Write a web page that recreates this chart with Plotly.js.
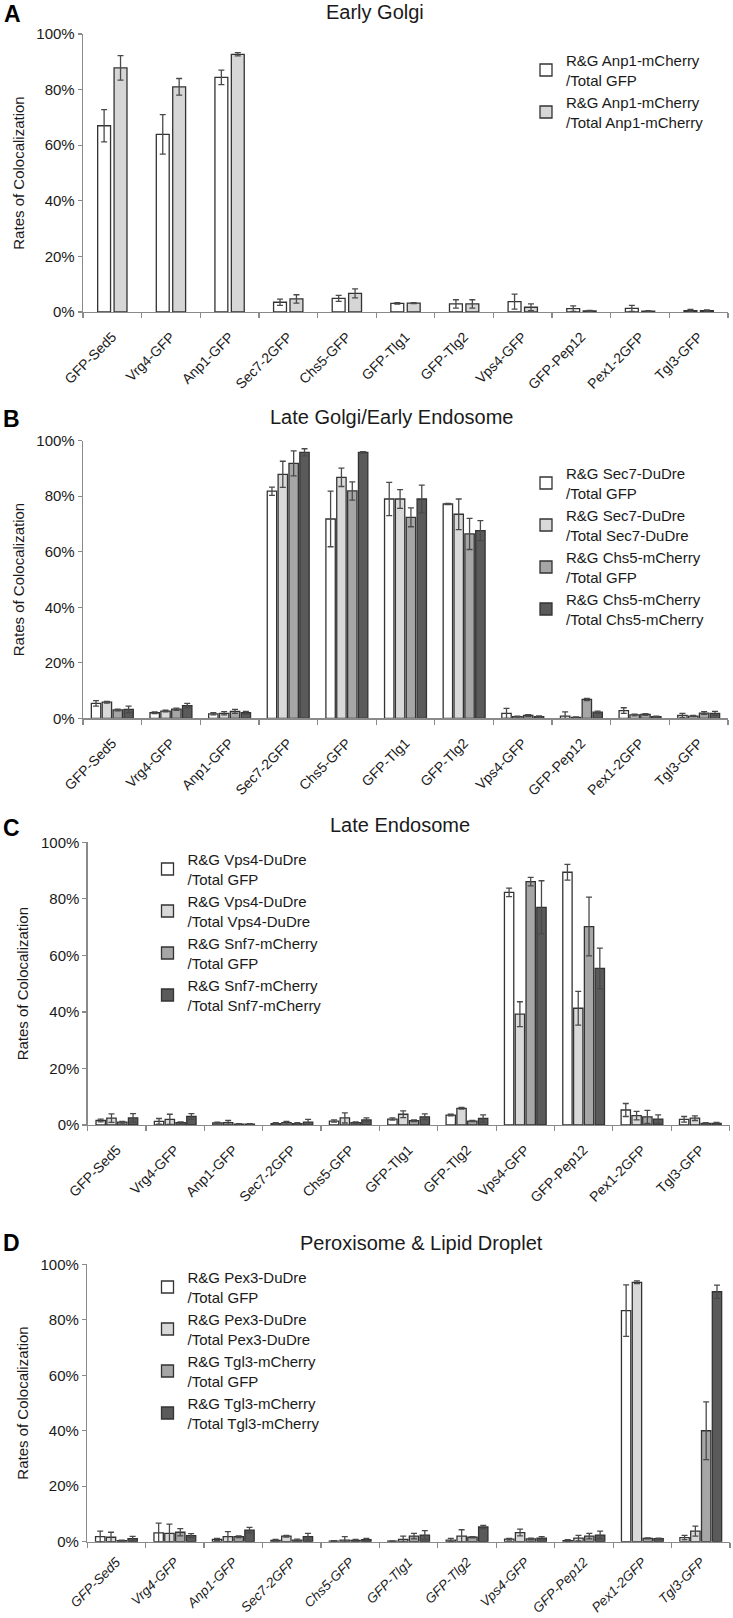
<!DOCTYPE html>
<html>
<head>
<meta charset="utf-8">
<script src="https://cdn.plot.ly/plotly-3.0.1.min.js"></script>
<style>
  html, body { margin: 0; padding: 0; background: #ffffff; }
  #chart { width: 733px; height: 1618px; }
</style>
</head>
<body>
<div id="chart"></div>
<script>
// ---------------- DATA ----------------
const categories = ['GFP-Sed5', 'Vrg4-GFP', 'Anp1-GFP', 'Sec7-2GFP', 'Chs5-GFP', 'GFP-Tlg1',
                    'GFP-Tlg2', 'Vps4-GFP', 'GFP-Pep12', 'Pex1-2GFP', 'Tgl3-GFP'];

const panelTitles = ['Early Golgi', 'Late Golgi/Early Endosome', 'Late Endosome', 'Peroxisome & Lipid Droplet'];
const panelLetters = ['A', 'B', 'C', 'D'];
const yAxisTitle = 'Rates of Colocalization';
const yTickVals = [0, 20, 40, 60, 80, 100];
const yTickText = ['0%', '20%', '40%', '60%', '80%', '100%'];

// Panel A – Early Golgi
const namesA = ['R&G Anp1-mCherry<br>/Total GFP', 'R&G Anp1-mCherry<br>/Total Anp1-mCherry'];
const aTotalGFP      = [67.0, 63.9, 84.4, 3.5, 4.9, 3.1, 2.9, 3.7, 1.2, 1.3, 0.5];
const aTotalGFPErr   = [5.8, 7.1, 2.6, 1.1, 1.1, 0.3, 1.5, 2.7, 1.0, 1.1, 0.4];
const aTotalAnp1     = [87.8, 81.0, 92.7, 4.7, 6.7, 3.2, 2.9, 1.7, 0.4, 0.3, 0.5];
const aTotalAnp1Err  = [4.4, 3.0, 0.6, 1.5, 1.6, 0.2, 1.5, 1.2, 0.2, 0.2, 0.3];

// Panel B – Late Golgi / Early Endosome
const namesB = ['R&G Sec7-DuDre<br>/Total GFP', 'R&G Sec7-DuDre<br>/Total Sec7-DuDre',
                'R&G Chs5-mCherry<br>/Total GFP', 'R&G Chs5-mCherry<br>/Total Chs5-mCherry'];
const bSec7GFP       = [5.4, 2.0, 1.6, 81.8, 71.8, 79.0, 77.2, 1.8, 0.8, 2.8, 1.0];
const bSec7GFPErr    = [1.0, 0.3, 0.4, 1.5, 10.0, 6.0, 0.2, 1.8, 1.5, 1.0, 0.8];
const bSec7Sec7      = [5.8, 2.6, 1.8, 87.9, 86.8, 79.0, 73.5, 0.6, 0.3, 1.2, 0.8];
const bSec7Sec7Err   = [0.3, 0.3, 0.6, 4.7, 3.3, 3.4, 5.5, 0.2, 0.2, 0.3, 0.2];
const bChs5GFP       = [3.0, 3.3, 2.5, 91.8, 81.9, 72.4, 66.4, 1.0, 6.8, 1.4, 1.9];
const bChs5GFPErr    = [0.3, 0.4, 0.7, 4.5, 3.3, 3.4, 5.6, 0.3, 0.4, 0.3, 0.5];
const bChs5Chs5      = [3.2, 4.6, 2.0, 95.8, 95.8, 79.0, 67.6, 0.6, 2.2, 0.6, 1.8];
const bChs5Chs5Err   = [1.2, 0.8, 0.5, 1.3, 0.3, 5.0, 3.6, 0.3, 0.4, 0.2, 0.7];

// Panel C – Late Endosome
const namesC = ['R&G Vps4-DuDre<br>/Total GFP', 'R&G Vps4-DuDre<br>/Total Vps4-DuDre',
                'R&G Snf7-mCherry<br>/Total GFP', 'R&G Snf7-mCherry<br>/Total Snf7-mCherry'];
const cVps4GFP       = [1.6, 1.3, 0.7, 0.5, 1.4, 2.1, 3.5, 82.3, 89.4, 5.3, 2.0];
const cVps4GFPErr    = [0.5, 1.0, 0.3, 0.3, 0.4, 0.4, 0.3, 1.5, 2.8, 2.3, 1.0];
const cVps4Vps4      = [2.4, 2.0, 0.8, 0.8, 2.5, 3.8, 5.9, 39.2, 41.3, 3.3, 2.4];
const cVps4Vps4Err   = [1.5, 1.8, 0.8, 0.5, 1.8, 1.2, 0.3, 4.4, 6.0, 1.5, 0.8];
const cSnf7GFP       = [1.0, 0.8, 0.3, 0.5, 0.8, 1.5, 1.4, 86.1, 70.2, 2.9, 0.6];
const cSnf7GFPErr    = [0.3, 0.3, 0.2, 0.3, 0.3, 0.3, 0.2, 1.5, 10.4, 2.3, 0.2];
const cSnf7Snf7      = [2.5, 3.0, 0.3, 1.0, 1.8, 2.9, 2.3, 77.0, 55.4, 2.1, 0.6];
const cSnf7Snf7Err   = [1.5, 1.0, 0.2, 1.0, 0.7, 1.0, 1.3, 9.4, 7.2, 1.5, 0.3];

// Panel D – Peroxisome & Lipid Droplet
const namesD = ['R&G Pex3-DuDre<br>/Total GFP', 'R&G Pex3-DuDre<br>/Total Pex3-DuDre',
                'R&G Tgl3-mCherry<br>/Total GFP', 'R&G Tgl3-mCherry<br>/Total Tgl3-mCherry'];
const dPex3GFP       = [1.8, 3.2, 0.8, 0.5, 0.2, 0.2, 0.6, 0.9, 0.4, 83.3, 1.5];
const dPex3GFPErr    = [2.0, 3.5, 0.4, 0.3, 0.2, 0.1, 0.6, 0.3, 0.3, 9.3, 0.8];
const dPex3Pex3      = [1.6, 3.0, 1.8, 2.0, 0.6, 0.8, 2.0, 3.3, 1.3, 93.5, 3.8];
const dPex3Pex3Err   = [1.8, 3.3, 1.8, 0.3, 1.2, 1.2, 2.3, 1.2, 1.0, 0.5, 1.8];
const dTgl3GFP       = [0.4, 3.4, 1.8, 0.6, 0.5, 2.0, 1.6, 1.0, 2.0, 1.2, 40.0];
const dTgl3GFPErr    = [0.2, 1.3, 0.3, 0.3, 0.3, 1.0, 0.2, 0.3, 1.0, 0.2, 10.4];
const dTgl3Tgl3      = [1.1, 2.2, 4.2, 1.8, 0.7, 2.4, 5.3, 1.3, 2.4, 1.1, 90.1];
const dTgl3Tgl3Err   = [0.8, 0.7, 1.0, 1.2, 0.5, 1.6, 0.6, 0.5, 1.4, 0.2, 2.4];

// ---------------- STYLE / LAYOUT HELPERS ----------------
const W = 733, H = 1618;
const px = x => x / W;
const py = y => 1 - y / H;
const FONT = 'Liberation Sans, Arial, sans-serif';
const TXT = '#1a1a1a';
const AXC = '#8a8a8a';
const fillsTwo = ['#ffffff', '#d6d6d6'];
const fillsFour = ['#ffffff', '#d9d9d9', '#a6a6a6', '#5a5a5a'];

// geometry of each panel (pixels)
const panels = [
  {x0: 83,   x1: 728,   yTop: 34,    yBot: 312,    title: [375, 12.2],  letter: [12.3, 14.5], legend: [526, 44], standoff: 10},
  {x0: 83,   x1: 728,   yTop: 440.7, yBot: 718.3,  title: [391, 417.2], letter: [11.7, 419.3], legend: [526, 457], standoff: 10},
  {x0: 87.7, x1: 729.5, yTop: 842.3, yBot: 1125,   title: [400, 824.9], letter: [11, 827.7],  legend: [147.5, 843], standoff: 10},
  {x0: 87.2, x1: 730,   yTop: 1264.3, yBot: 1541.7, title: [421.7, 1243.2], letter: [11.3, 1243], legend: [147.5, 1261], standoff: 6}
];

const seriesByPanel = [
  {names: namesA, fills: fillsTwo, vals: [aTotalGFP, aTotalAnp1], errs: [aTotalGFPErr, aTotalAnp1Err]},
  {names: namesB, fills: fillsFour, vals: [bSec7GFP, bSec7Sec7, bChs5GFP, bChs5Chs5], errs: [bSec7GFPErr, bSec7Sec7Err, bChs5GFPErr, bChs5Chs5Err]},
  {names: namesC, fills: fillsFour, vals: [cVps4GFP, cVps4Vps4, cSnf7GFP, cSnf7Snf7], errs: [cVps4GFPErr, cVps4Vps4Err, cSnf7GFPErr, cSnf7Snf7Err]},
  {names: namesD, fills: fillsFour, vals: [dPex3GFP, dPex3Pex3, dTgl3GFP, dTgl3Tgl3], errs: [dPex3GFPErr, dPex3Pex3Err, dTgl3GFPErr, dTgl3Tgl3Err]}
];

const traces = [];
const layout = {
  width: W, height: H,
  margin: {l: 0, r: 0, t: 0, b: 0},
  paper_bgcolor: '#ffffff', plot_bgcolor: '#ffffff',
  barmode: 'overlay',
  showlegend: true,
  font: {family: FONT, color: TXT, size: 15},
  annotations: []
};

seriesByPanel.forEach((s, p) => {
  const n = p + 1;
  const sfx = n === 1 ? '' : String(n);
  const g = panels[p];
  const k = s.vals.length;
  const bw = k === 2 ? 0.22 : 0.16;
  const step = k === 2 ? 0.28 : 0.185;
  const start = -((k - 1) * step + bw) / 2;
  s.vals.forEach((v, i) => {
    traces.push({
      type: 'bar',
      x: categories,
      y: v,
      name: s.names[i],
      width: bw,
      offset: start + i * step,
      xaxis: 'x' + sfx,
      yaxis: 'y' + sfx,
      legend: 'legend' + sfx,
      marker: {color: s.fills[i], line: {color: '#333333', width: 1.3}},
      error_y: {type: 'data', array: s.errs[i], visible: true, color: '#4a4a4a', thickness: 1.3, width: 3},
      hoverinfo: 'x+y'
    });
  });

  layout['xaxis' + sfx] = {
    domain: [px(g.x0), px(g.x1)],
    anchor: 'y' + sfx,
    type: 'category',
    range: [-0.5, categories.length - 0.5],
    tickson: 'boundaries',
    ticks: 'outside', ticklen: 5, tickwidth: 1.2, tickcolor: AXC,
    showline: true, linecolor: AXC, linewidth: 1.3,
    showgrid: false, zeroline: false,
    tickangle: -45,
    ticklabelstandoff: g.standoff,
    tickfont: {family: FONT, size: p === 3 ? 13.5 : 14, color: TXT, style: p === 3 ? 'italic' : 'normal'},
    fixedrange: true
  };
  layout['yaxis' + sfx] = {
    domain: [py(g.yBot), py(g.yTop)],
    anchor: 'x' + sfx,
    range: [0, 100],
    tickmode: 'array',
    tickvals: yTickVals,
    ticktext: yTickText,
    ticks: 'outside', ticklen: 4, tickwidth: 1.2, tickcolor: AXC,
    showline: true, linecolor: AXC, linewidth: 1.3,
    showgrid: false, zeroline: false,
    tickfont: {family: FONT, size: 15, color: TXT},
    title: {text: yAxisTitle, font: {family: FONT, size: 15, color: TXT}, standoff: 8},
    fixedrange: true
  };
  layout['legend' + sfx] = {
    x: px(g.legend[0]), y: py(g.legend[1]),
    xanchor: 'left', yanchor: 'top',
    bgcolor: 'rgba(0,0,0,0)',
    font: {family: FONT, size: 15, color: TXT},
    traceorder: 'normal',
    itemclick: false, itemdoubleclick: false
  };
  layout.annotations.push({
    text: panelTitles[p], xref: 'paper', yref: 'paper',
    x: px(g.title[0]), y: py(g.title[1]), xanchor: 'center', yanchor: 'middle',
    showarrow: false, font: {family: FONT, size: 20, color: TXT}
  });
  layout.annotations.push({
    text: '<b>' + panelLetters[p] + '</b>', xref: 'paper', yref: 'paper',
    x: px(g.letter[0]), y: py(g.letter[1]), xanchor: 'center', yanchor: 'middle',
    showarrow: false, font: {family: FONT, size: 23, color: '#000000'}
  });
});

Plotly.newPlot('chart', traces, layout, {displayModeBar: false, staticPlot: true});
</script>
</body>
</html>
